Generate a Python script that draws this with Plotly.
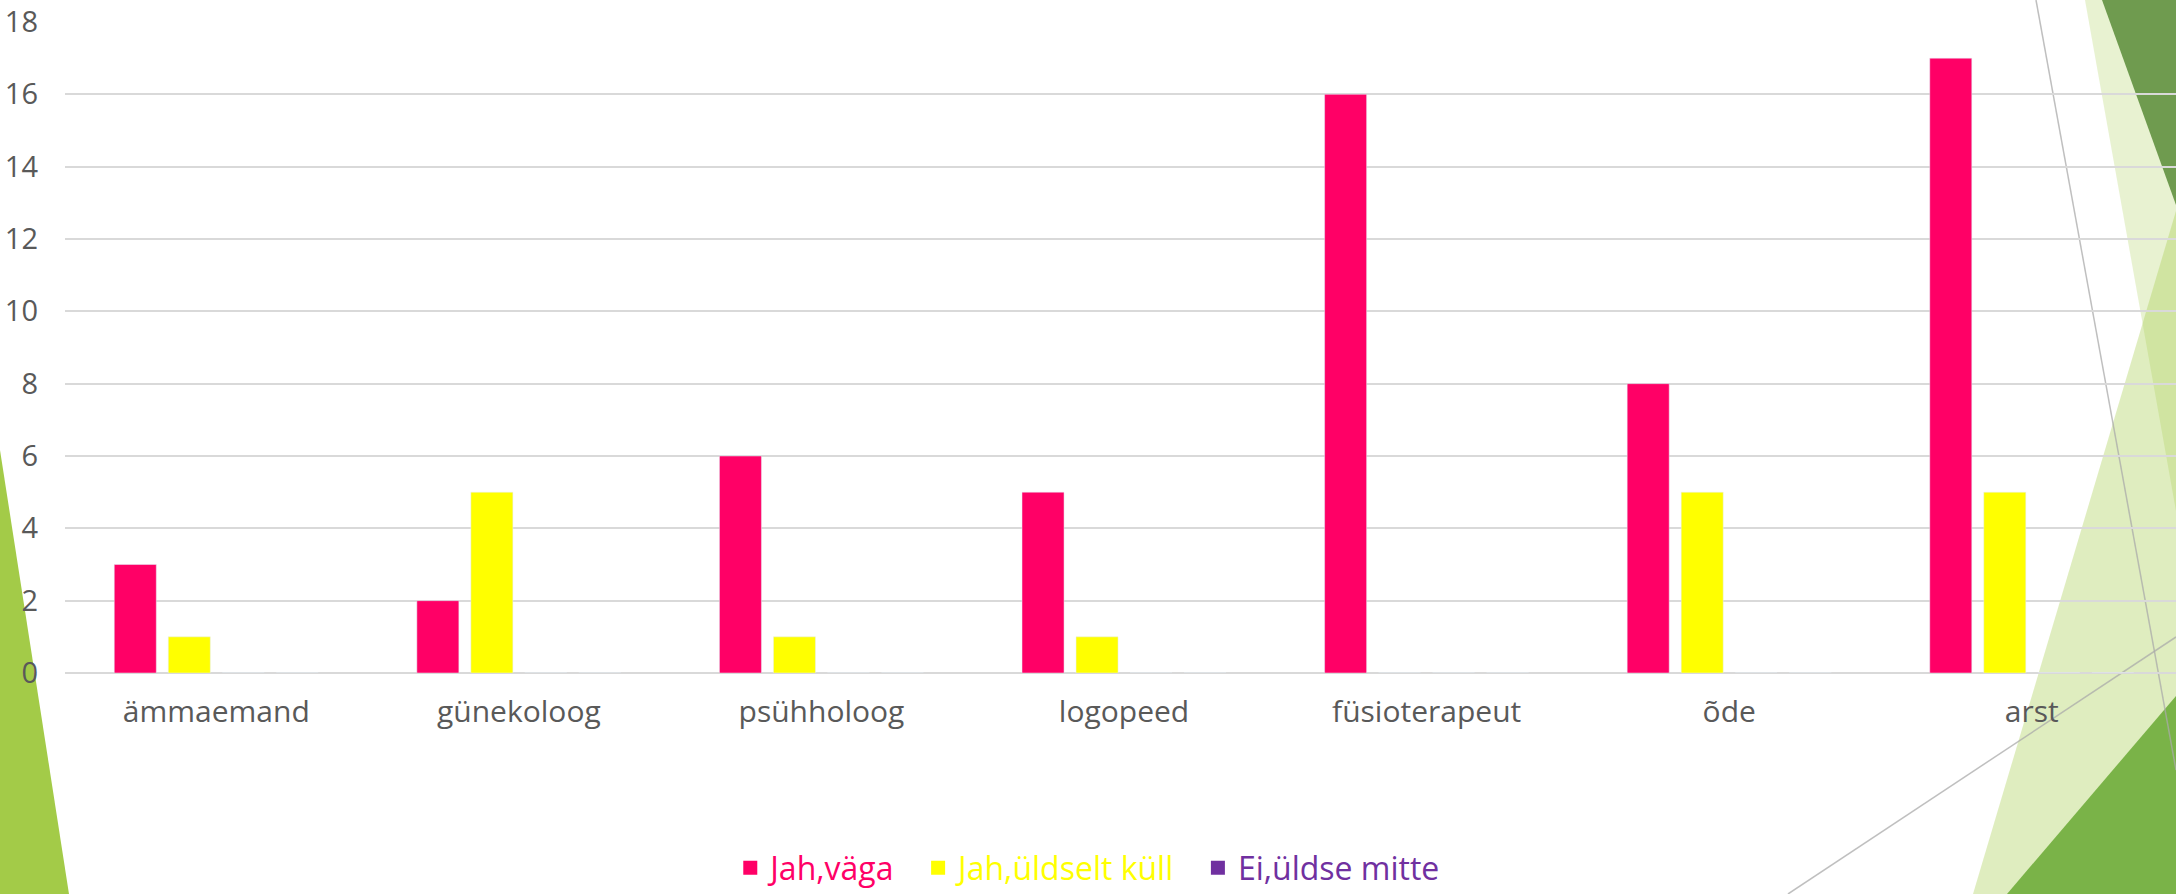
import plotly.graph_objects as go

categories = ["ämmaemand", "günekoloog", "psühholoog", "logopeed", "füsioterapeut", "õde", "arst"]
jah_vaga = [3, 2, 6, 5, 16, 8, 17]
jah_yldselt = [1, 5, 1, 1, 0, 5, 5]
ei_yldse = [0, 0, 0, 0, 0, 0, 0]
empty_series = [0, 0, 0, 0, 0, 0, 0]
y_ticks = [0, 2, 4, 6, 8, 10, 12, 14, 16, 18]
series_names = ["Jah,väga", "Jah,üldselt küll", "Ei,üldse mitte"]

PINK = "#FF0066"
YELLOW = "#FFFF00"
PURPLE = "#7030A0"
colors = [PINK, YELLOW, PURPLE]

FIG_W, FIG_H = 2176, 894
L, T, R, B = 65, 22, 0, 221
PW, PH = FIG_W - L - R, FIG_H - T - B


def P(x, y):
    return (x - L) / PW, (T + PH - y) / PH


def poly(points, fill):
    pts = [P(x, y) for x, y in points]
    path = "M " + " L ".join(f"{a:.5f},{b:.5f}" for a, b in pts) + " Z"
    return dict(type="path", xref="paper", yref="paper", path=path,
                fillcolor=fill, line=dict(width=0), layer="below")


def seg(p1, p2, color="rgba(170,170,170,0.75)", w=1.5):
    x0, y0 = P(*p1)
    x1, y1 = P(*p2)
    return dict(type="line", xref="paper", yref="paper", x0=x0, y0=y0, x1=x1, y1=y1,
                line=dict(color=color, width=w), layer="below")


fig = go.Figure()
for vals, col, nm in zip([jah_vaga, jah_yldselt, ei_yldse], colors, series_names):
    fig.add_trace(go.Bar(x=categories, y=vals, marker_color=col, name=nm,
                         legendgroup=nm, showlegend=False))
fig.add_trace(go.Bar(x=categories, y=empty_series, marker_color="#4472C4",
                     showlegend=False))
# legend entries (square keys, coloured text)
for i, (col, nm) in enumerate(zip(colors, series_names)):
    pad = "\u00a0\u00a0" if i < len(series_names) - 1 else ""
    fig.add_trace(go.Scatter(x=[None], y=[None], mode="markers", legendgroup=nm,
                             marker=dict(symbol="square", size=14, color=col),
                             name=f"<span style='color:{col}'>{nm}</span>{pad}"))

shapes = [
    poly([(0, 450), (69, 894), (0, 894)], "#A3CB48"),
    poly([(2085, 0), (2176, 0), (2176, 511)], "rgba(163,203,72,0.25)"),
    poly([(2176, 211), (2176, 894), (1973, 894)], "rgba(163,203,72,0.35)"),
    poly([(2102, 0), (2176, 0), (2176, 205)], "#6F9B4F"),
    poly([(2007, 894), (2176, 696), (2176, 894)], "#7AB348"),
    seg((2036, 0), (2176, 770)),
    seg((1788, 894), (2176, 637)),
]

fig.update_layout(
    width=FIG_W, height=FIG_H, autosize=False,
    margin=dict(l=L, r=R, t=T, b=B, pad=0),
    paper_bgcolor="white",
    plot_bgcolor="rgba(0,0,0,0)",
    barmode="group",
    bargap=0.286,
    bargroupgap=0.222,
    font=dict(family="Open Sans, DejaVu Sans, sans-serif", color="#595959"),
    shapes=shapes,
    showlegend=True,
    legend=dict(orientation="h", x=0.4845, xanchor="center",
                yref="container", y=1 - 868 / FIG_H, yanchor="middle",
                font=dict(size=32, family="Open Sans, sans-serif"),
                bgcolor="rgba(0,0,0,0)", itemwidth=30, tracegroupgap=0),
    xaxis=dict(range=[-0.5, -0.5 + PW / ((2032 - 216.5) / 6)], showgrid=False,
               showline=False, zeroline=False, ticks="",
               tickfont=dict(size=30, color="#595959"), ticklabelstandoff=18,
               fixedrange=True),
    yaxis=dict(range=[0, 18], tickvals=y_ticks, showgrid=True, gridcolor="#D9D9D9",
               gridwidth=1.7, zeroline=True, zerolinecolor="#D9D9D9", zerolinewidth=1.7,
               showline=False, ticks="", tickfont=dict(size=29, color="#595959"),
               ticklabelstandoff=26, fixedrange=True),
)

fig.write_html(
    "out.html",
    config={"responsive": False, "displayModeBar": False, "staticPlot": True},
    post_script="document.body.style.margin='0';document.body.style.overflow='hidden';",
)
